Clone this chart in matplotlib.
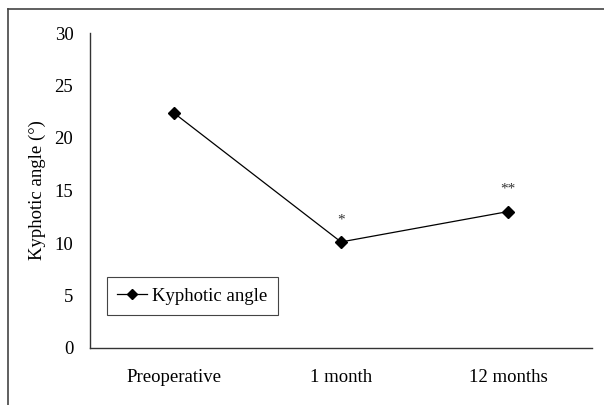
import matplotlib
matplotlib.use("Agg")
import matplotlib.pyplot as plt
from matplotlib.lines import Line2D

categories = ["Preoperative", "1 month", "12 months"]
kyphotic_angle = [22.4, 10.1, 13.0]
marks = ["", "*", "**"]
mark_heights = [None, 12.2, 15.1]

plt.rcParams["font.family"] = ["Liberation Serif", "DejaVu Serif"]
plt.rcParams["font.size"] = 13.5

fig = plt.figure(figsize=(6.04, 4.05), dpi=100)
ax = fig.add_axes([90 / 604, 1 - 348 / 405, 502 / 604, 315 / 405])

x = [i + 0.5 for i in range(len(categories))]
ax.plot(x, kyphotic_angle, color="black", lw=0.9, marker="D", ms=6.5,
        label="Kyphotic angle")
for xi, m, h in zip(x, marks, mark_heights):
    if m:
        ax.text(xi, h, m, ha="center", va="center", fontsize=11, color="#333333")

ax.set_xlim(0, 3)
ax.set_ylim(0, 30)
ax.set_yticks(range(0, 31, 5))
ax.set_xticks(x)
ax.set_xticklabels(categories)
ax.tick_params(length=0)
ax.tick_params(axis="x", pad=15)
ax.tick_params(axis="y", pad=12)
for s in ["top", "right"]:
    ax.spines[s].set_visible(False)
for s in ["left", "bottom"]:
    ax.spines[s].set_linewidth(1.0)
    ax.spines[s].set_color("#333333")
ax.set_ylabel("Kyphotic angle (°)", labelpad=6, fontsize=13.5)

leg = ax.legend(loc="lower left", bbox_to_anchor=(17 / 502, 33 / 315),
                borderaxespad=0, fancybox=False, edgecolor="#444444",
                framealpha=1, handlelength=1.6, handletextpad=0.25,
                borderpad=0.55, markerscale=0.75, fontsize=13.5)
leg.get_frame().set_linewidth(0.8)

# outer frame (only top and left visible in the crop)
fig.add_artist(Line2D([8 / 604, 8 / 604], [0, 1 - 9 / 405], color="#444444", lw=1.2,
                      transform=fig.transFigure))
fig.add_artist(Line2D([8 / 604, 1], [1 - 9 / 405, 1 - 9 / 405], color="#444444", lw=1.2,
                      transform=fig.transFigure))

fig.savefig("out.png", dpi=100)
